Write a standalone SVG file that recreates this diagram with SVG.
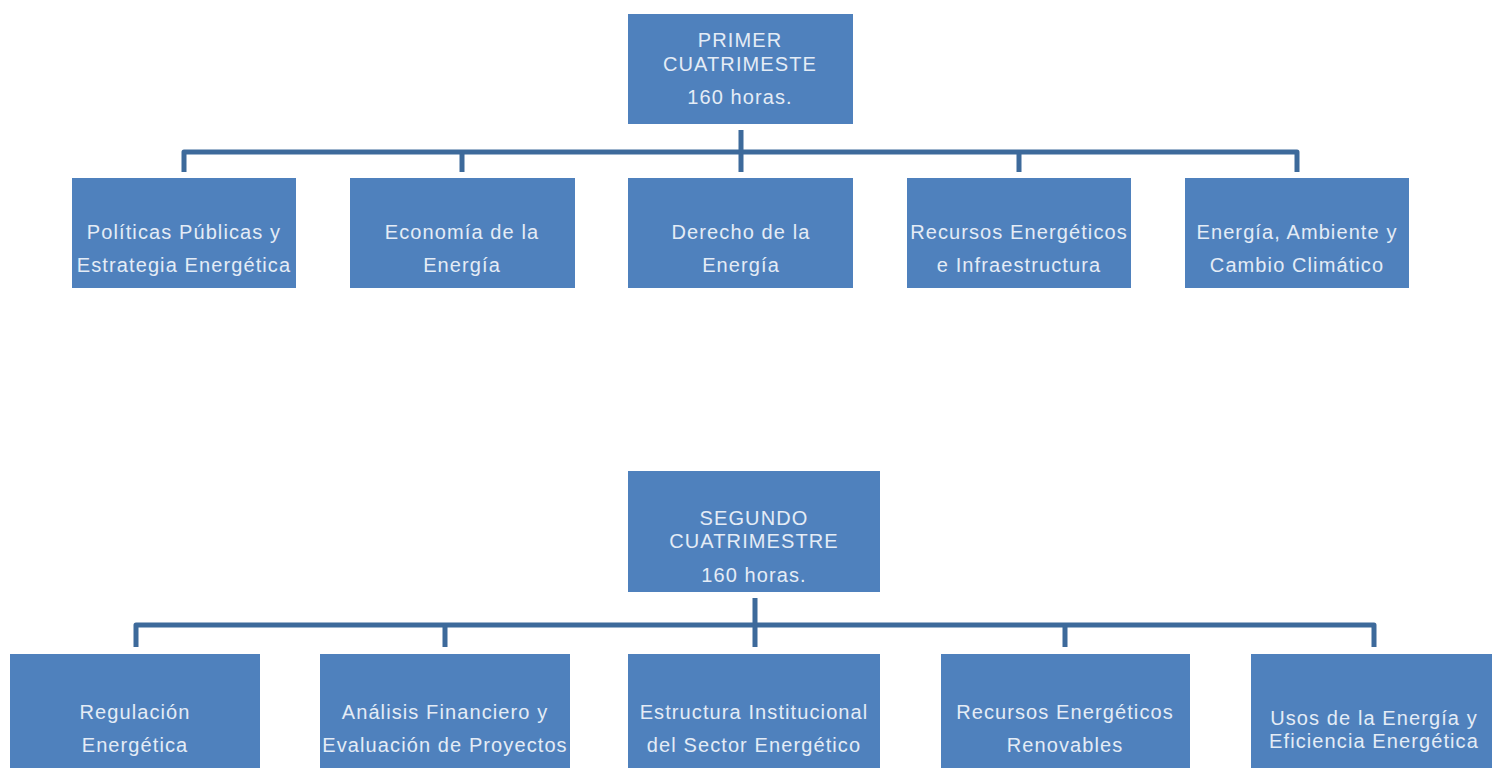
<svg xmlns="http://www.w3.org/2000/svg" width="1492" height="768" viewBox="0 0 1492 768">
<style>
.box{fill:#4f81bd}
.t{font-family:"Liberation Sans",Arial,sans-serif;font-size:20px;fill:#e4ecf6;text-anchor:middle;letter-spacing:1.1px}
.c{fill:none;stroke:#3d6a9b;stroke-width:5;stroke-linejoin:round}
</style>
<rect width="1492" height="768" fill="#ffffff"/>
<g id="connectors">
<path class="c" d="M741,130 V172 M184,172 V152 H1297 V172 M462,152 V172 M1019,152 V172"/>
<path class="c" d="M755,598 V647 M136,647 V625 H1374 V647 M445,625 V647 M1065,625 V647"/>
</g>
<g id="n-primer">
<rect class="box" x="628" y="14" width="225" height="110"/>
<text class="t" x="740" y="47">PRIMER</text>
<text class="t" x="740" y="71">CUATRIMESTE</text>
<text class="t" x="740" y="104">160 horas.</text>
</g>
<g id="n-politicas">
<rect class="box" x="72" y="178" width="224" height="110"/>
<text class="t" x="184" y="239">Políticas Públicas y</text>
<text class="t" x="184" y="272">Estrategia Energética</text>
</g>
<g id="n-economia">
<rect class="box" x="350" y="178" width="225" height="110"/>
<text class="t" x="462" y="239">Economía de la</text>
<text class="t" x="462" y="272">Energía</text>
</g>
<g id="n-derecho">
<rect class="box" x="628" y="178" width="225" height="110"/>
<text class="t" x="741" y="239">Derecho de la</text>
<text class="t" x="741" y="272">Energía</text>
</g>
<g id="n-recursos">
<rect class="box" x="907" y="178" width="224" height="110"/>
<text class="t" x="1019" y="239">Recursos Energéticos</text>
<text class="t" x="1019" y="272">e Infraestructura</text>
</g>
<g id="n-ambiente">
<rect class="box" x="1185" y="178" width="224" height="110"/>
<text class="t" x="1297" y="239">Energía, Ambiente y</text>
<text class="t" x="1297" y="272">Cambio Climático</text>
</g>
<g id="n-segundo">
<rect class="box" x="628" y="471" width="252" height="121"/>
<text class="t" x="754" y="525">SEGUNDO</text>
<text class="t" x="754" y="548">CUATRIMESTRE</text>
<text class="t" x="754" y="582">160 horas.</text>
</g>
<g id="n-regulacion">
<rect class="box" x="10" y="654" width="250" height="120"/>
<text class="t" x="135" y="719">Regulación</text>
<text class="t" x="135" y="752">Energética</text>
</g>
<g id="n-analisis">
<rect class="box" x="320" y="654" width="250" height="120"/>
<text class="t" x="445" y="719">Análisis Financiero y</text>
<text class="t" x="445" y="752">Evaluación de Proyectos</text>
</g>
<g id="n-estructura">
<rect class="box" x="628" y="654" width="252" height="120"/>
<text class="t" x="754" y="719">Estructura Institucional</text>
<text class="t" x="754" y="752">del Sector Energético</text>
</g>
<g id="n-renovables">
<rect class="box" x="941" y="654" width="249" height="120"/>
<text class="t" x="1065" y="719">Recursos Energéticos</text>
<text class="t" x="1065" y="752">Renovables</text>
</g>
<g id="n-usos">
<rect class="box" x="1251" y="654" width="250" height="120"/>
<text class="t" x="1374" y="725">Usos de la Energía y</text>
<text class="t" x="1374" y="748">Eficiencia Energética</text>
</g>
</svg>
